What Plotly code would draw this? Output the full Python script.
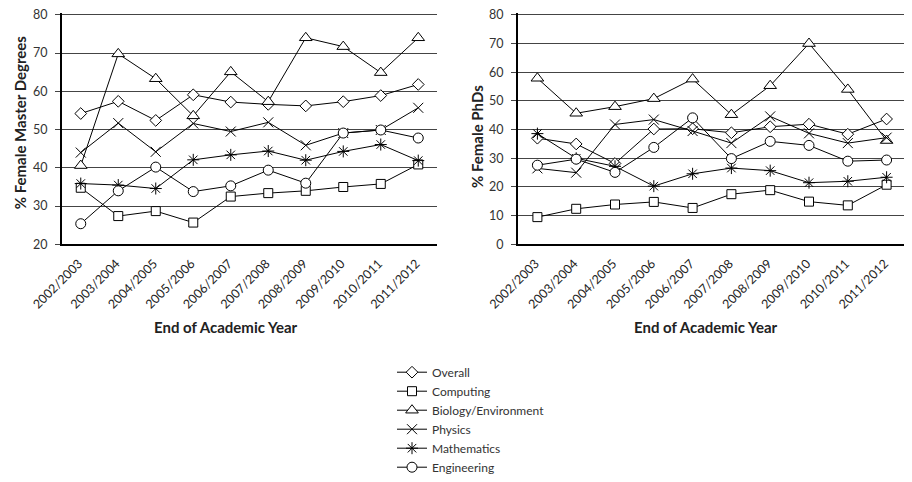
import plotly.graph_objects as go

years = ["2002/2003", "2003/2004", "2004/2005", "2005/2006", "2006/2007",
         "2007/2008", "2008/2009", "2009/2010", "2010/2011", "2011/2012"]

series_names = ["Overall", "Computing", "Biology/Environment", "Physics", "Mathematics", "Engineering"]

# % Female Master Degrees
masters_overall = [54.2, 57.4, 52.4, 59.1, 57.2, 56.6, 56.2, 57.3, 58.9, 61.8]
masters_computing = [34.8, 27.4, 28.7, 25.7, 32.5, 33.4, 34.0, 35.0, 35.8, 40.9]
masters_biology = [40.6, 69.8, 63.3, 53.6, 65.1, 57.3, 74.0, 71.7, 64.9, 74.0]
masters_physics = [44.0, 51.7, 44.2, 51.6, 49.5, 51.9, 45.9, 49.1, 49.9, 55.7]
masters_math = [35.9, 35.5, 34.6, 42.1, 43.4, 44.4, 42.0, 44.3, 46.1, 41.9]
masters_eng = [25.4, 34.0, 40.2, 33.8, 35.3, 39.4, 36.0, 49.1, 49.9, 47.8]

# % Female PhDs
phd_overall = [37.0, 35.0, 28.2, 40.2, 40.3, 38.9, 41.0, 41.9, 38.4, 43.7]
phd_computing = [9.5, 12.4, 13.9, 14.8, 12.7, 17.5, 18.9, 14.9, 13.6, 20.8]
phd_biology = [57.9, 45.7, 48.0, 50.8, 57.6, 45.2, 55.3, 70.0, 54.0, 36.2]
phd_physics = [26.5, 25.0, 41.8, 43.5, 39.5, 35.3, 44.6, 38.7, 35.3, 37.2]
phd_math = [38.6, 30.0, 27.2, 20.3, 24.6, 26.6, 25.7, 21.5, 22.0, 23.4]
phd_eng = [27.6, 29.7, 25.1, 33.8, 44.1, 29.9, 35.9, 34.5, 29.0, 29.4]

masters = [masters_overall, masters_computing, masters_biology, masters_physics, masters_math, masters_eng]
phds = [phd_overall, phd_computing, phd_biology, phd_physics, phd_math, phd_eng]

symbols = ["diamond", "square", "triangle-up", "x-thin-open", "asterisk-open", "circle"]
fills = ["white", "white", "white", "black", "black", "white"]
sizes = [9, 9, 11, 10, 10, 10]

FONT = "Lato, 'Open Sans', sans-serif"
OFF = 8  # page body margin
W, H = 912 - OFF, 482 - OFF


def px(x):
    return (x - OFF) / W


def py(y):
    return 1 - (y - OFF) / H


fig = go.Figure()
for i, name in enumerate(series_names):
    mk = dict(symbol=symbols[i], size=sizes[i], color=fills[i],
              line=dict(color="black", width=1))
    fig.add_trace(go.Scatter(x=years, y=masters[i], mode="lines+markers", name=name,
                             line=dict(color="black", width=1), marker=mk,
                             xaxis="x", yaxis="y", showlegend=True))
    fig.add_trace(go.Scatter(x=years, y=phds[i], mode="lines+markers", name=name,
                             line=dict(color="black", width=1), marker=mk,
                             xaxis="x2", yaxis="y2", showlegend=False))

# plot area: value 80 at y=15 px, bottom at y=250 px; a little headroom so the top gridline is kept
Y_TOP, Y_BOT, PAD = 15, 250, 2.0
ppu1 = (Y_BOT - Y_TOP) / 60.0
ppu2 = (Y_BOT - Y_TOP) / 80.0
ydom = [py(Y_BOT), py(Y_TOP - PAD)]

common_x = dict(type="category", range=[-0.5, 9.5], showgrid=False, showline=True,
                linecolor="black", linewidth=2, ticks="", tickangle=-45,
                ticklabelshift=-2, ticklabelstandoff=5,
                tickfont=dict(family=FONT, size=12.5, color="#222"), automargin=False)
common_y = dict(showgrid=True, gridcolor="#444", gridwidth=1, showline=True,
                linecolor="black", linewidth=2, ticks="outside", ticklen=5,
                tickcolor="#444", zeroline=False, ticklabelstandoff=5,
                ticklabeloverflow="allow", dtick=10, tick0=0,
                tickfont=dict(family=FONT, size=12.5, color="#333"), automargin=False)

fig.update_layout(
    width=W, height=H,
    margin=dict(l=0, r=0, t=0, b=0),
    paper_bgcolor="white", plot_bgcolor="white",
    xaxis=dict(domain=[px(62), px(437)], anchor="y", **common_x),
    yaxis=dict(domain=ydom, anchor="x", range=[20, 80 + PAD / ppu1], **common_y),
    xaxis2=dict(domain=[px(518), px(906)], anchor="y2", **common_x),
    yaxis2=dict(domain=ydom, anchor="x2", range=[0, 80 + PAD / ppu2], **common_y),
    legend=dict(x=px(392), y=py(366), xanchor="left", yanchor="top",
                font=dict(family=FONT, size=12, color="#333"),
                bgcolor="rgba(0,0,0,0)"),
    showlegend=True,
)

annots = [
    dict(text="<b>% Female Master Degrees</b>", x=px(9), y=py(125), textangle=-90, xanchor="left"),
    dict(text="<b>% Female PhDs</b>", x=px(477), y=py(139), textangle=-90, xanchor="center"),
    dict(text="<b>End of Academic Year</b>", x=px(226), y=py(335), textangle=0, xanchor="center"),
    dict(text="<b>End of Academic Year</b>", x=px(706), y=py(335), textangle=0, xanchor="center"),
]
for a in annots:
    fig.add_annotation(xref="paper", yref="paper", showarrow=False, yanchor="middle",
                       font=dict(family=FONT, size=15, color="#222"), **a)

fig.write_html("out.html")
